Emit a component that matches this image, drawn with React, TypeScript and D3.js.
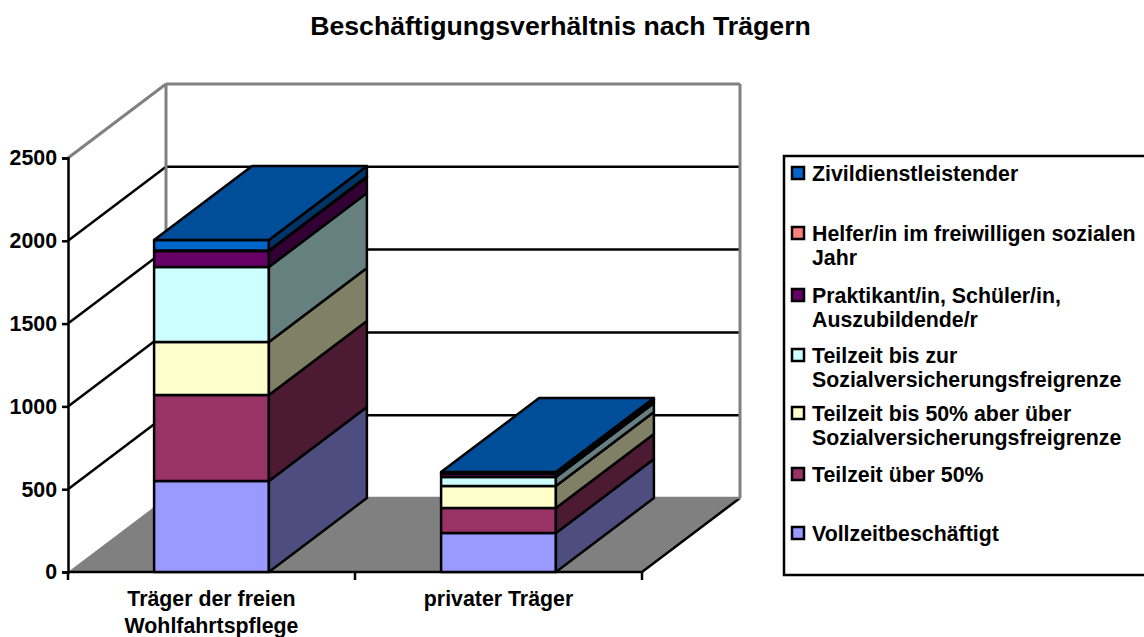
import React, { useEffect, useRef } from 'react';
import * as d3 from 'd3';

const title = 'Beschäftigungsverhältnis nach Trägern';
const categories = ['Träger der freien Wohlfahrtspflege', 'privater Träger'];
const categoryLines = [['Träger der freien', 'Wohlfahrtspflege'], ['privater Träger']];
const yTicks = [0, 500, 1000, 1500, 2000, 2500];

// stacked bottom to top
const seriesNames = [
  'Vollzeitbeschäftigt',
  'Teilzeit über 50%',
  'Teilzeit bis 50% aber über Sozialversicherungsfreigrenze',
  'Teilzeit bis zur Sozialversicherungsfreigrenze',
  'Praktikant/in, Schüler/in, Auszubildende/r',
  'Helfer/in im freiwilligen sozialen Jahr',
  'Zivildienstleistender',
];
const seriesColors = ['#9999ff', '#993366', '#ffffcc', '#ccffff', '#660066', '#ff8080', '#0066cc'];
const traegerFrei = [550, 519, 320, 453, 96, 3, 64];
const traegerPrivat = [235, 151, 133, 55, 20, 2, 8];
const values = [traegerFrei, traegerPrivat];

const legendLines = [
  ['Vollzeitbeschäftigt'],
  ['Teilzeit über 50%'],
  ['Teilzeit bis 50% aber über', 'Sozialversicherungsfreigrenze'],
  ['Teilzeit bis zur', 'Sozialversicherungsfreigrenze'],
  ['Praktikant/in, Schüler/in,', 'Auszubildende/r'],
  ['Helfer/in im freiwilligen sozialen', 'Jahr'],
  ['Zivildienstleistender'],
];
const legendRowY = [533, 474, 413, 355, 295, 233, 173];

const FONT = '"Liberation Sans", Arial, sans-serif';

const shade = (c: string, k: number) => {
  const r = d3.rgb(c);
  return d3.rgb(r.r * k, r.g * k, r.b * k).formatHex();
};

const App = () => {
  const svgRef = useRef<SVGSVGElement>(null);

  useEffect(() => {
    const svg = d3.select(svgRef.current);
    svg.selectAll('*').remove();
    svg.attr('font-family', FONT).attr('font-weight', 'bold').attr('fill', '#000');

    const x = d3.scaleBand().domain(categories).range([68, 642]).paddingInner(0.6).paddingOuter(0.3);
    const y = d3.scaleLinear().domain([0, 2500]).range([572, 158]);
    const dx = 98;
    const dy = -74;
    const [x0, x1] = x.range();
    const yBase = y(0);
    const yTop = y(2500);
    const poly = (pts: number[][]) => d3.line()(pts as [number, number][]) + 'Z';

    svg.append('text').attr('x', 560.5).attr('y', 35).attr('text-anchor', 'middle')
      .attr('font-size', 26.67).text(title);

    // floor
    svg.append('path')
      .attr('d', poly([[x0, yBase], [x1, yBase], [x1 + dx, yBase + dy], [x0 + dx, yBase + dy]]))
      .attr('fill', '#808080').attr('stroke', 'none');
    svg.append('path')
      .attr('d', d3.line()([[x0, yBase], [x1, yBase], [x1 + dx, yBase + dy]]))
      .attr('fill', 'none').attr('stroke', '#000').attr('stroke-width', 2.5);

    // grid on side and back wall
    yTicks.forEach(t => {
      const isTop = t === 2500;
      const c = isTop ? '#808080' : '#000';
      if (t !== 0) {
        svg.append('path')
          .attr('d', d3.line()([[x0, y(t)], [x0 + dx, y(t) + dy]]))
          .attr('fill', 'none').attr('stroke', c).attr('stroke-width', isTop ? 3 : 2.5);
      }
      svg.append('line')
        .attr('x1', x0 + dx).attr('x2', x1 + dx).attr('y1', y(t) + dy).attr('y2', y(t) + dy)
        .attr('stroke', t === 0 ? '#808080' : c).attr('stroke-width', isTop ? 3 : 2.5);
    });
    svg.append('path')
      .attr('d', d3.line()([[x0 + dx, yBase + dy], [x0 + dx, yTop + dy]]))
      .attr('stroke', '#808080').attr('stroke-width', 3).attr('fill', 'none');
    svg.append('path')
      .attr('d', d3.line()([[x1 + dx, yBase + dy], [x1 + dx, yTop + dy]]))
      .attr('stroke', '#808080').attr('stroke-width', 3).attr('fill', 'none');

    // stacked bars, drawn from the bottom up
    categories.forEach((cat, ci) => {
      const left = x(cat)!;
      const right = left + x.bandwidth();
      let sum = 0;
      seriesNames.forEach((_, si) => {
        const v = values[ci][si];
        const y0 = y(sum);
        const y1 = y(sum + v);
        sum += v;
        const g = svg.append('g').attr('stroke', '#000').attr('stroke-width', 2.5).attr('stroke-linejoin', 'round');
        g.append('path').attr('d', poly([[left, y1], [right, y1], [right, y0], [left, y0]]))
          .attr('fill', seriesColors[si]);
        g.append('path').attr('d', poly([[right, y1], [right + dx, y1 + dy], [right + dx, y0 + dy], [right, y0]]))
          .attr('fill', shade(seriesColors[si], 0.5));
        if (si === seriesNames.length - 1) {
          g.append('path').attr('d', poly([[left, y1], [left + dx, y1 + dy], [right + dx, y1 + dy], [right, y1]]))
            .attr('fill', shade(seriesColors[si], 0.75));
        }
      });
    });

    // value axis
    const yAxis = svg.append('g').attr('transform', `translate(${x0},0)`)
      .call(d3.axisLeft(y).tickValues(yTicks).tickSize(6).tickPadding(5).tickFormat(d3.format('d')));
    yAxis.selectAll('line, path').attr('stroke', '#000').attr('stroke-width', 2.5);
    yAxis.selectAll('text').attr('font-family', FONT).attr('font-size', 21.33).attr('font-weight', 'bold').attr('fill', '#000');

    // category axis ticks sit on the band edges
    const step = x.step();
    d3.range(3).forEach(i => {
      svg.append('line').attr('x1', x0 + i * step).attr('x2', x0 + i * step)
        .attr('y1', yBase).attr('y2', yBase + 8).attr('stroke', '#000').attr('stroke-width', 2.5);
    });
    categories.forEach((cat, ci) => {
      categoryLines[ci].forEach((l, li) => {
        svg.append('text').attr('x', x(cat)! + x.bandwidth() / 2).attr('y', 606 + li * 26.5)
          .attr('text-anchor', 'middle').attr('font-size', 21.33).text(l);
      });
    });

    // legend
    svg.append('rect').attr('x', 784).attr('y', 156).attr('width', 370).attr('height', 419)
      .attr('fill', '#fff').attr('stroke', '#000').attr('stroke-width', 2.5);
    seriesNames.forEach((_, si) => {
      const rowY = legendRowY[si];
      svg.append('rect').attr('x', 792).attr('y', rowY - 6).attr('width', 12).attr('height', 12)
        .attr('fill', seriesColors[si]).attr('stroke', '#000').attr('stroke-width', 2.5);
      legendLines[si].forEach((l, li) => {
        svg.append('text').attr('x', 812).attr('y', rowY + 7.5 + li * 24.5)
          .attr('font-size', 21.33).text(l);
      });
    });
  }, []);

  return <svg ref={svgRef} width={1144} height={637} style={{ position: 'absolute', left: 0, top: 0, display: 'block' }} />;
};

export default App;
